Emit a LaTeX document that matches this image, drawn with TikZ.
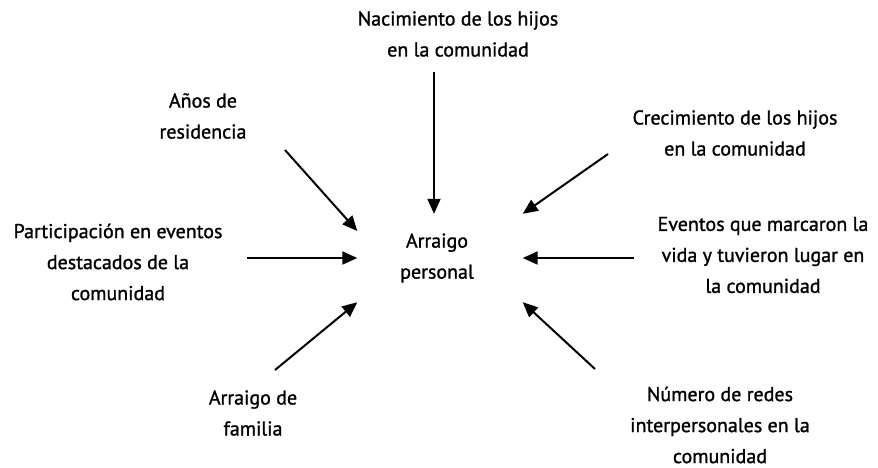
\documentclass[tikz,border=0pt]{standalone}
\usepackage{fontspec}
\setmainfont{PT Sans}
\newfontfamily\lblfont{PT Sans}[FakeBold=1.2]
\usetikzlibrary{positioning, arrows.meta, calc}

\begin{document}
\begin{tikzpicture}[x=1pt, y=-1pt,
          lbl/.style={align=center, inner sep=0pt, font=\lblfont\fontsize{20}{31}\selectfont},
          flow/.style={-{Triangle[length=15pt, width=13pt]}, line width=2pt}]
        \useasboundingbox (0,0) rectangle (878,467);
        \node[lbl, minimum width=165pt, minimum height=88pt] (AP) at (437,258) {Arraigo\\personal};
        \node[lbl] (N) at (458,34)  {Nacimiento de los hijos\\en la comunidad};
        \node[lbl] (A) at (203,116) {Años de\\residencia};
        \node[lbl] (P) at (118,262) {Participación en eventos\\destacados de la\\comunidad};
        \node[lbl] (F) at (253,413) {Arraigo de\\familia};
        \node[lbl] (C) at (735,133) {Crecimiento de los hijos\\en la comunidad};
        \node[lbl] (E) at (763,255) {Eventos que marcaron la\\vida y tuvieron lugar en\\la comunidad};
        \node[lbl] (R) at (720,425) {Número de redes\\interpersonales en la\\comunidad};
        % arrow tails
        \coordinate (tN) at (434,72);  \coordinate (tA) at (285,150);
        \coordinate (tP) at (247,258); \coordinate (tF) at (275,370);
        \coordinate (tC) at (608,154); \coordinate (tE) at (634,258);
        \coordinate (tR) at (595,369);
        \draw[flow] (tN) -- ([xshift=-3pt]AP.north);
        \draw[flow] (tA) -- ([yshift=27pt,xshift=3pt]AP.west);
        \draw[flow] (tP) -- ([xshift=3pt]AP.west);
        \draw[flow] (tF) -- ([xshift=3pt]AP.south west);
        \draw[flow] (tC) -- ([xshift=3pt]AP.north east);
        \draw[flow] (tE) -- ([xshift=3pt]AP.east);
        \draw[flow] (tR) -- ([xshift=3pt]AP.south east);
      \end{tikzpicture}
\end{document}
